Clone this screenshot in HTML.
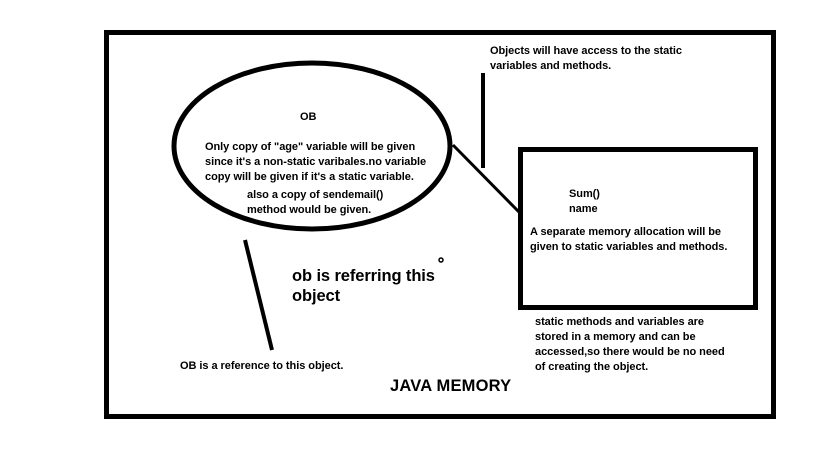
<!DOCTYPE html>
<html><head><style>
body{margin:0;width:816px;height:460px;background:#fff;overflow:hidden;position:relative;font-family:"Liberation Sans",sans-serif;font-weight:bold;color:#000}
.t{position:absolute;font-size:11px;line-height:15px;white-space:nowrap;letter-spacing:-0.05px}
</style></head><body>
<svg width="816" height="460" style="position:absolute;left:0;top:0">
<rect x="106.5" y="32.5" width="667" height="384" fill="none" stroke="#000" stroke-width="5"/>
<rect x="520.5" y="149.5" width="235" height="158" fill="none" stroke="#000" stroke-width="5"/>
<ellipse cx="312" cy="146" rx="138" ry="83" fill="none" stroke="#000" stroke-width="5"/>
<line x1="483" y1="73" x2="483" y2="168" stroke="#000" stroke-width="4"/>
<line x1="453" y1="145" x2="519" y2="212" stroke="#000" stroke-width="3"/>
<line x1="245" y1="240" x2="272" y2="350" stroke="#000" stroke-width="4"/>
<circle cx="441" cy="260" r="2" fill="none" stroke="#000" stroke-width="1.5"/>
</svg>
<div class="t" style="left:300px;top:110px">OB</div>
<div class="t" style="left:205px;top:140px">Only copy of "age" variable will be given<br>since it's a non-static varibales.no variable<br>copy will be given if it's a static variable.</div>
<div class="t" style="left:247px;top:188px">also a copy of sendemail()<br>method would be given.</div>
<div class="t" style="left:490px;top:44px">Objects will have access to the static<br>variables and methods.</div>
<div class="t" style="left:569px;top:187px">Sum()<br>name</div>
<div class="t" style="left:530px;top:225px">A separate memory allocation will be<br>given to static variables and methods.</div>
<div class="t" style="left:292px;top:266px;font-size:16.5px;line-height:20px;letter-spacing:-0.1px">ob is referring this<br>object</div>
<div class="t" style="left:180px;top:359px">OB is a reference to this object.</div>
<div class="t" style="left:535px;top:315px">static methods and variables are<br>stored in a memory and can be<br>accessed,so there would be no need<br>of creating the object.</div>
<div class="t" style="left:390px;top:379px;font-size:16.5px;letter-spacing:0.2px">JAVA MEMORY</div>
</body></html>
